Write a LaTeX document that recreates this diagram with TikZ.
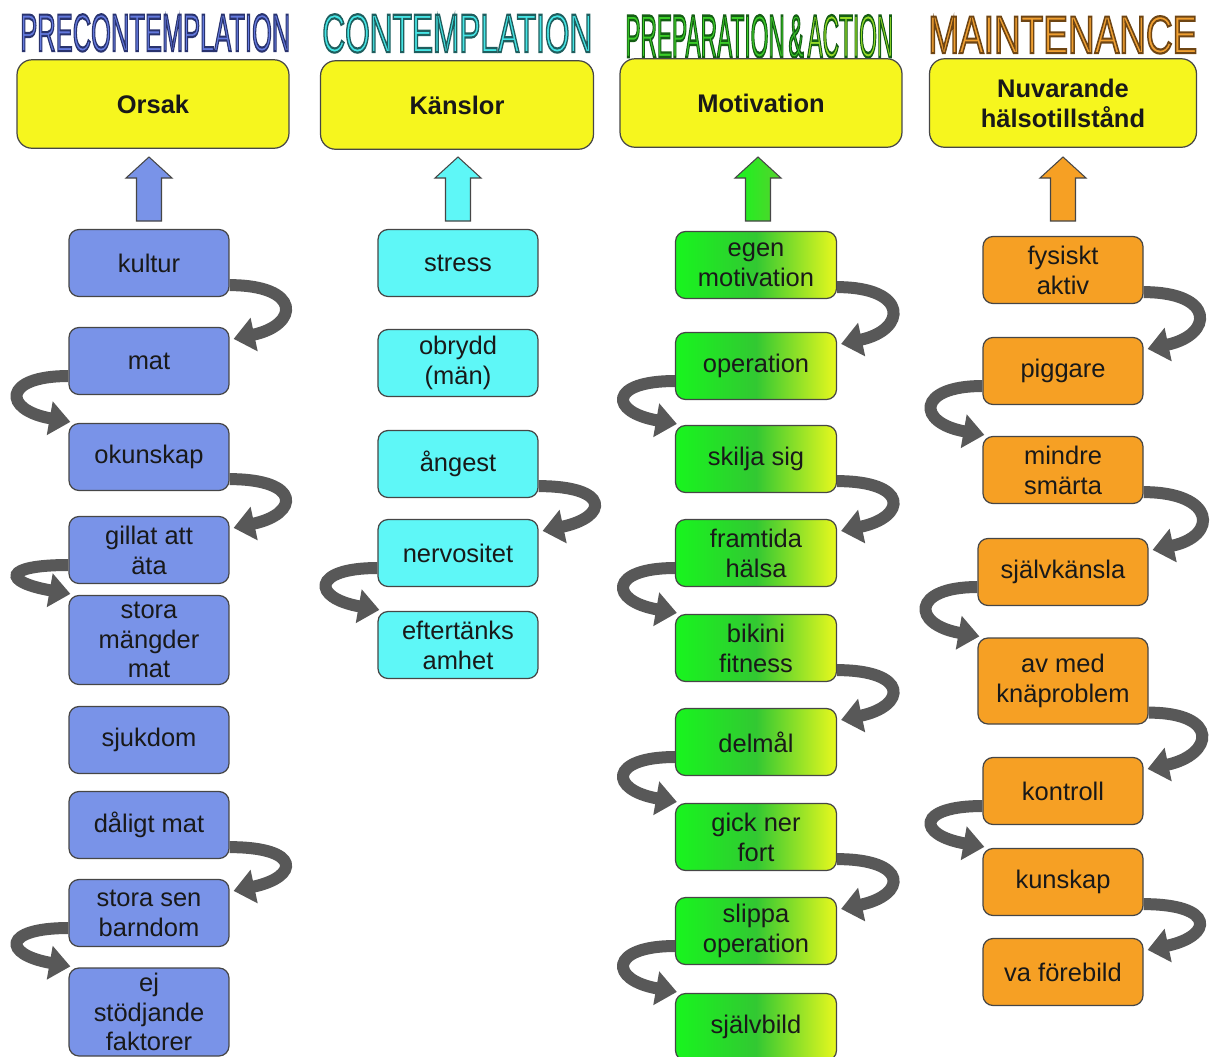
\documentclass[tikz,border=0pt]{standalone}
\usepackage{fontspec}
\setmainfont{Liberation Sans}
\usepackage{graphicx}
\usepackage{tikz}
\usetikzlibrary{calc,arrows.meta}
\definecolor{preblue}{RGB}{121,147,232}
\definecolor{concyan}{RGB}{94,247,247}
\definecolor{actgreen}{RGB}{24,245,30}
\definecolor{actmid}{RGB}{50,200,50}
\definecolor{actyellow}{RGB}{232,248,30}
\definecolor{mntorange}{RGB}{246,160,36}
\definecolor{headyellow}{RGB}{246,246,30}
\definecolor{boxline}{RGB}{70,70,70}
\definecolor{arrgray}{RGB}{88,88,88}
\definecolor{txtdark}{RGB}{25,25,25}
% title fill colours
\definecolor{prefill}{RGB}{100,122,222}
\definecolor{confill}{RGB}{70,230,230}
\definecolor{actfill}{RGB}{60,205,40}
\definecolor{actfillb}{RGB}{150,220,40}
\definecolor{mntfill}{RGB}{240,160,50}

\newcommand{\boxfont}{\fontsize{14.5}{17}\selectfont}
% outlined word: outline colour (pdf rgb), fill colour, text
\newcommand{\ringword}[3]{{\color{#2}\special{pdf:literal direct #1 RG 0.4 w 2 Tr}#3\special{pdf:literal direct 0 Tr}}}

\tikzset{
  stagebox/.style={draw=boxline, line width=0.7pt, rounded corners=0.2cm,
    minimum width=3.2cm, minimum height=1.34cm, align=center, inner sep=2pt,
    text=txtdark, font=\boxfont},
  preblock/.style={stagebox, fill=preblue},
  conblock/.style={stagebox, fill=concyan},
  actblock/.style={stagebox, left color=actgreen, right color=actyellow, middle color=actmid},
  mntblock/.style={stagebox, fill=mntorange},
  headbox/.style={draw=boxline, line width=0.7pt, fill=headyellow, rounded corners=0.3cm,
    minimum height=1.77cm, align=center, text=txtdark, font=\bfseries\boxfont},
  titletext/.style={anchor=south west, inner sep=0pt},
  flowarr/.style={draw=arrgray, line width=0.24cm, -{Triangle[width=0.66cm,length=0.42cm]}},
  uparrow/.pic={\path[pic actions] (-12.5,0) -- (-12.5,-43) -- (-23,-43) -- (0,-64)
    -- (23,-43) -- (12.5,-43) -- (12.5,0) -- cycle;}
}

\begin{document}
\begin{tikzpicture}[x=0.02cm, y=-0.02cm]
\useasboundingbox (0,0) rectangle (1210,1056);

% stage titles
\node[titletext] (pretitle) at (20,52) {\resizebox{5.4cm}{0.74cm}{\ringword{0.16 0.2 0.43}{prefill}{PRECONTEMPLATION}}};
\node[titletext] (contitle) at (322,53) {\resizebox{5.4cm}{0.76cm}{\ringword{0.12 0.37 0.37}{confill}{CONTEMPLATION}}};
\node[titletext] (acttitle) at (625,58) {\resizebox{5.36cm}{0.84cm}{\ringword{0.08 0.37 0.08}{actfill}{PREPARATION\,\&\,}\ringword{0.08 0.37 0.08}{actfillb}{ACTION}}};
\node[titletext] (mnttitle) at (928,54) {\resizebox{5.38cm}{0.74cm}{\ringword{0.43 0.27 0.08}{mntfill}{MAINTENANCE}}};

% yellow headers
\node[headbox, minimum width=5.44cm] (orsak) at (153,104) {Orsak};
\node[headbox, minimum width=5.46cm] (kanslor) at (457,105) {Känslor};
\node[headbox, minimum width=5.64cm] (motivation) at (761,103) {Motivation};
\node[headbox, minimum width=5.34cm] (halsa) at (1063,103) {Nuvarande\\hälsotillstånd};

% up arrows
\pic[draw=boxline, line width=0.6pt, fill=preblue] at (149,221) {uparrow};
\pic[draw=boxline, line width=0.6pt, fill=concyan] at (458,221) {uparrow};
\pic[draw=boxline, line width=0.6pt, left color=actgreen, right color=actmid!80!actyellow] at (758,221) {uparrow};
\pic[draw=boxline, line width=0.6pt, fill=mntorange] at (1063,221) {uparrow};

% precontemplation
\foreach \n/\yy/\hh/\t in {kultur/263/67/kultur, mat/361/67/mat, okunskap/457/67/okunskap,
    gillat/550/67/{gillat att\\äta}, mangder/640/89/{stora\\mängder\\mat}, sjukdom/740/67/sjukdom,
    daligt/825/67/{dåligt mat}, barndom/913/67/{stora sen\\barndom}, faktorer/1012/88/{ej\\stödjande\\faktorer}}
  \node[preblock, minimum height=\hh*0.02cm] (\n) at (149,\yy) {\t};

% contemplation
\foreach \n/\yy/\t in {stress/263/stress, obrydd/363/{obrydd\\(män)}, angest/464/ångest,
    nervositet/553/nervositet, eftertanks/645/{eftertänks\\amhet}}
  \node[conblock] (\n) at (458,\yy) {\t};

% preparation & action
\foreach \n/\yy/\t in {egen/265/{egen\\motivation}, operation/366/operation, skilja/459/{skilja sig},
    framtida/553/{framtida\\hälsa}, bikini/648/{bikini\\fitness}, delmal/742/delmål,
    gick/837/{gick ner\\fort}, slippa/931/{slippa\\operation}, sjalvbild/1027/självbild}
  \node[actblock, minimum width=3.22cm] (\n) at (756,\yy) {\t};

% maintenance
\foreach \n/\yy/\ww/\hh/\t in {fysiskt/270/160/67/{fysiskt\\aktiv}, piggare/371/160/67/piggare,
    mindre/470/160/67/{mindre\\smärta}, sjalvkansla/572/170/67/självkänsla,
    knaproblem/681/170/86/{av med\\knäproblem}, kontroll/791/160/67/kontroll,
    kunskap/882/160/67/kunskap, forebild/972/160/67/{va förebild}}
  \node[mntblock, minimum width=\ww*0.02cm, minimum height=\hh*0.02cm] (\n) at (1063,\yy) {\t};

% curled arrows on the right side
\foreach \a/\b in {kultur/mat, okunskap/gillat, daligt/barndom, angest/nervositet,
    egen/operation, skilja/framtida, bikini/delmal, gick/slippa,
    fysiskt/piggare, mindre/sjalvkansla, knaproblem/kontroll, kunskap/forebild}
  \draw[flowarr] ($(\a.south east)+(0,-12)$) .. controls +(72,0) and +(66,-14) .. ($(\b.north east)+(4,12)$);

% curled arrows on the left side
\foreach \a/\b in {mat/okunskap, gillat/mangder, barndom/faktorer, nervositet/eftertanks,
    operation/skilja, framtida/bikini, delmal/gick, slippa/sjalvbild,
    piggare/mindre, sjalvkansla/knaproblem, kontroll/kunskap}
  \draw[flowarr] ($(\a.west)+(0,15)$) .. controls +(-66,0) and +(-68,-12) .. ($(\b.north west)+(2,-1)$);
\end{tikzpicture}
\end{document}
